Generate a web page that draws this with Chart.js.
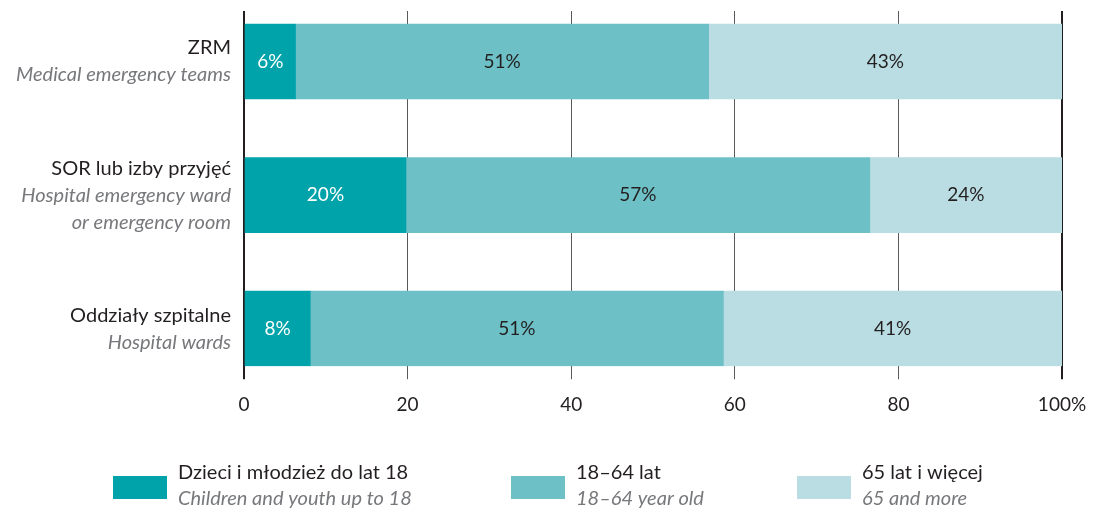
<!DOCTYPE html>
<html>
<head>
<meta charset="utf-8">
<script src="https://cdn.jsdelivr.net/npm/chart.js@4.4.1/dist/chart.umd.min.js"></script>
<style>
  html, body { margin: 0; padding: 0; background: #fff; }
  #wrap { position: relative; width: 1095px; height: 509px; }
</style>
</head>
<body>
<div id="wrap"><canvas id="ageChart"></canvas></div>
<script>
// categories (main label + english sublines)
const categories = ["ZRM", "SOR lub izby przyjęć", "Oddziały szpitalne"];
const categorySub = [
  ["Medical emergency teams"],
  ["Hospital emergency ward", "or emergency room"],
  ["Hospital wards"]
];

// series (percent shares)
const seriesNames = ["Dzieci i młodzież do lat 18", "18–64 lat", "65 lat i więcej"];
const seriesSub = ["Children and youth up to 18", "18–64 year old", "65 and more"];
const children = [6.3, 19.8, 8.1];
const adults = [50.5, 56.7, 50.5];
const seniors = [43.2, 23.5, 41.4];

const xTicks = [0, 20, 40, 60, 80, 100];

const colors = ["#00a3aa", "#6cc0c6", "#b9dde2"];
const labelColors = ["#ffffff", "#231f20", "#231f20"];
const FONT = "Lato, 'Open Sans', sans-serif";

function toPoints(values) {
  return values.map((v, i) => ({ x: v, y: i }));
}

// labels on the left of each bar
const categoryLabels = {
  id: "categoryLabels",
  afterDraw(chart) {
    const ctx = chart.ctx;
    const yScale = chart.scales.y;
    const right = chart.chartArea.left - 13;
    const lineH = 27;
    ctx.save();
    ctx.textAlign = "right";
    ctx.textBaseline = "middle";
    categories.forEach((name, i) => {
      const lines = [name].concat(categorySub[i]);
      const cy = yScale.getPixelForValue(i);
      let y = cy - (lines.length - 1) * lineH / 2;
      lines.forEach((txt, j) => {
        ctx.font = (j === 0 ? "" : "italic ") + "20px " + FONT;
        ctx.fillStyle = j === 0 ? "#231f20" : "#77787b";
        ctx.fillText(txt, right, y);
        y += lineH;
      });
    });
    ctx.restore();
  }
};

// percent values inside segments
const valueLabels = {
  id: "valueLabels",
  afterDatasetsDraw(chart) {
    const ctx = chart.ctx;
    ctx.save();
    ctx.textAlign = "center";
    ctx.textBaseline = "middle";
    ctx.font = "19px " + FONT;
    chart.data.datasets.forEach((ds, di) => {
      const meta = chart.getDatasetMeta(di);
      meta.data.forEach((bar, i) => {
        const p = bar.getProps(["x", "y", "base"], true);
        ctx.fillStyle = labelColors[di];
        ctx.fillText(Math.round(ds.data[i].x) + "%", (p.x + p.base) / 2, p.y);
      });
    });
    ctx.restore();
  }
};

// two-line legend under the chart
const legendLeft = [113, 511, 797];
const twoLineLegend = {
  id: "twoLineLegend",
  afterDraw(chart) {
    const ctx = chart.ctx;
    ctx.save();
    ctx.textAlign = "left";
    ctx.textBaseline = "middle";
    seriesNames.forEach((name, i) => {
      const x = legendLeft[i];
      ctx.fillStyle = colors[i];
      ctx.fillRect(x, 476, 54, 23);
      ctx.font = "20px " + FONT;
      ctx.fillStyle = "#231f20";
      ctx.fillText(name, x + 65, 473);
      ctx.font = "italic 20px " + FONT;
      ctx.fillStyle = "#77787b";
      ctx.fillText(seriesSub[i], x + 65, 499);
    });
    ctx.restore();
  }
};

new Chart(document.getElementById("ageChart"), {
  type: "bar",
  data: {
    datasets: [
      { label: seriesNames[0], data: toPoints(children), backgroundColor: colors[0] },
      { label: seriesNames[1], data: toPoints(adults), backgroundColor: colors[1] },
      { label: seriesNames[2], data: toPoints(seniors), backgroundColor: colors[2] }
    ]
  },
  options: {
    indexAxis: "y",
    responsive: true,
    maintainAspectRatio: false,
    animation: false,
    barThickness: 75,
    layout: { padding: { top: 11, left: 244, right: 33, bottom: 79 } },
    plugins: {
      legend: { display: false },
      tooltip: { enabled: false }
    },
    scales: {
      x: {
        type: "linear",
        stacked: true,
        min: 0,
        max: 100,
        afterBuildTicks: (scale) => { scale.ticks = xTicks.map(v => ({ value: v })); },
        afterFit: (scale) => { scale.paddingLeft = 0; scale.paddingRight = 0; },
        border: { display: false },
        grid: {
          drawOnChartArea: true,
          tickLength: 13,
          color: (c) => (c.tick && (c.tick.value === 0 || c.tick.value === 100)) ? "#231f20" : "#58595b",
          lineWidth: (c) => (c.tick && (c.tick.value === 0 || c.tick.value === 100)) ? 2 : 1
        },
        ticks: {
          padding: 14,
          color: "#231f20",
          font: { family: FONT, size: 19 },
          callback: (v) => v === 100 ? "100%" : String(v)
        }
      },
      y: {
        type: "linear",
        stacked: true,
        reverse: true,
        offset: false,
        grid: { offset: false },
        min: -0.378,
        max: 2.281,
        display: false
      }
    }
  },
  plugins: [categoryLabels, valueLabels, twoLineLegend]
});
</script>
</body>
</html>
